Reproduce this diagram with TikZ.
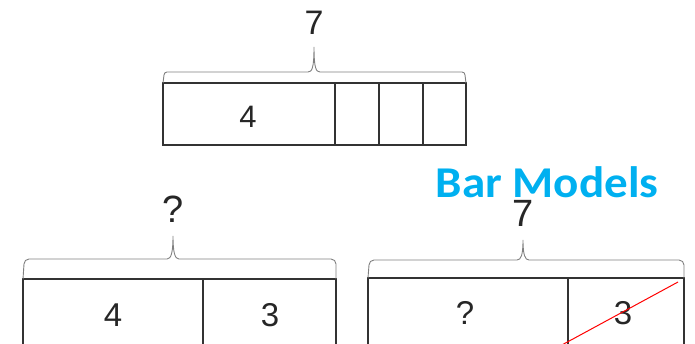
\documentclass[tikz,border=0pt]{standalone}
\usepackage{fontspec}
\setmainfont{Liberation Sans}
\newfontfamily\titlefont{Carlito}
\begin{document}
\begin{tikzpicture}[x=1pt,y=-1pt,
  cell/.style={draw=black!80, line width=1.3pt, inner sep=0pt, outer sep=0pt, anchor=north west},
  brace/.style={draw=black!50, line width=0.9pt},
  num/.style={font=\fontsize{31}{31}\selectfont, text=black!85, inner sep=0pt},
  lownum/.style={font=\fontsize{33}{33}\selectfont, text=black!85, inner sep=0pt},
  bignum/.style={font=\fontsize{34}{34}\selectfont, text=black!85, inner sep=0pt},
  lowbig/.style={font=\fontsize{38}{38}\selectfont, text=black!85, inner sep=0pt},
  title/.style={font=\titlefont\bfseries\fontsize{44}{44}\selectfont, text={rgb,255:red,0;green,176;blue,240}, inner sep=0pt, xscale=1.07}]
\useasboundingbox (0,0) rectangle (695,344);
\clip (0,0) rectangle (695,344);
% top bar
\node[cell, minimum width=172pt, minimum height=62pt] (t4) at (163,83) {};
\node[num] (t4l) at (248,117) {4};
\node[cell, minimum width=44pt, minimum height=62pt] (ta) at (335,83) {};
\node[cell, minimum width=44pt, minimum height=62pt] (tb) at (379,83) {};
\node[cell, minimum width=43pt, minimum height=62pt] (tc) at (423,83) {};
\coordinate (ttip) at (314,47);
\draw[brace] (t4.north west) -- (164,75) arc (180:270:3) -- (308,72)
  .. controls (312,72) and (314,68) .. (ttip)
  .. controls (314,68) and (316,72) .. (320,72) -- (462,72) arc (270:360:3) -- (tc.north east);
\node[bignum] (t7) at (314,23) {7};
% bottom-left bar
\node[cell, minimum width=180pt, minimum height=72pt] (l4) at (23,279) {};
\node[lownum] (l4l) at (113,315) {4};
\node[cell, minimum width=133pt, minimum height=72pt] (l3) at (203,279) {};
\node[lownum] (l3l) at (270,315) {3};
\coordinate (ltip) at (173,236);
\draw[brace] (l4.north west) -- (24,264) arc (180:270:5) -- (167,259)
  .. controls (171,259) and (173,253) .. (ltip)
  .. controls (173,253) and (175,259) .. (179,259) -- (331,259) arc (270:360:5) -- (l3.north east);
\node[lowbig] (lq) at (173,209) {?};
% bottom-right bar
\node[cell, minimum width=200pt, minimum height=70pt] (rq) at (368,278) {};
\node[lownum] (rql) at (465,313) {?};
\node[cell, minimum width=116pt, minimum height=70pt] (r3) at (568,278) {};
\node[lownum] (r3l) at (623,313) {3};
\coordinate (rtip) at (523,240);
\draw[brace] (rq.north west) -- (369,265) arc (180:270:5) -- (517,260)
  .. controls (521,260) and (523,255) .. (rtip)
  .. controls (523,255) and (525,260) .. (529,260) -- (679,260) arc (270:360:5) -- (r3.north east);
\node[lowbig] (r7) at (523,213) {7};
\coordinate (xa) at (560,346);
\coordinate (xb) at (678,282);
\draw[red, line width=1pt] (xa) -- (xb);
% title
\node[title] (title) at (547,182) {Bar Models};
\end{tikzpicture}
\end{document}
